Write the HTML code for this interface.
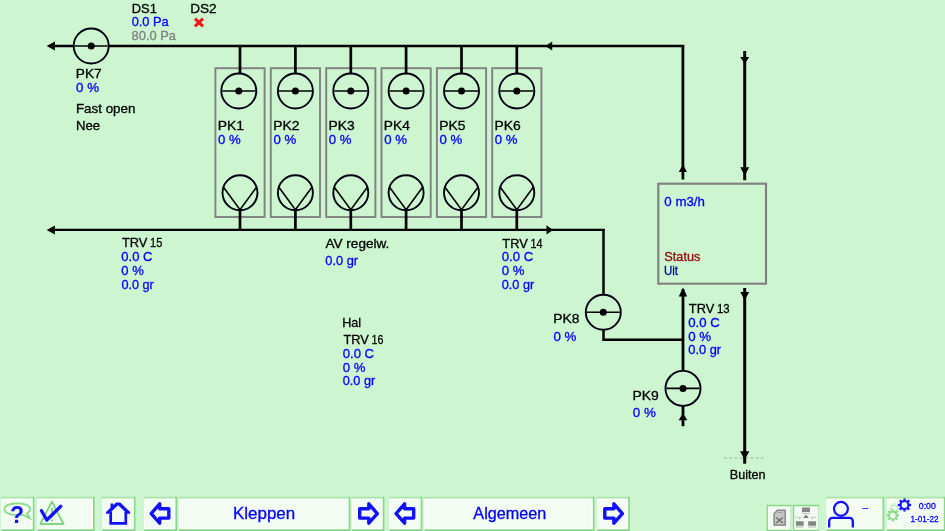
<!DOCTYPE html>
<html><head><meta charset="utf-8"><title>Kleppen</title>
<style>
html,body{margin:0;padding:0;background:#cdf5d0;overflow:hidden}
svg{display:block;will-change:transform}
text{font-family:"Liberation Sans",Arial,sans-serif;font-size:12.6px;stroke-width:.3px}
.k{fill:#000;stroke:#000}
.b{fill:#0000ff;stroke:#0000ff}
.g{fill:#808080;stroke:#808080}
.r{fill:#8e0808;stroke:#8e0808}
.n{fill:#0000a8;stroke:#0000a8}
.ln{stroke:#000;fill:none}
.bx{stroke:#808080;stroke-width:1.9;fill:none}
.btn{fill:#f2fcf2;stroke:#a4e2a4;stroke-width:1.8}
.bt{font-size:16.5px}
.sm{font-size:9.8px}
.xs{font-size:9.5px}
.ic{stroke:#1010ff;fill:none}
</style></head><body>
<svg width="945" height="531" viewBox="0 0 945 531">

<rect class="bx" x="215.4" y="68.2" width="49.2" height="148.8"/>
<rect class="bx" x="270.8" y="68.2" width="49.2" height="148.8"/>
<rect class="bx" x="326.2" y="68.2" width="49.2" height="148.8"/>
<rect class="bx" x="381.5" y="68.2" width="49.2" height="148.8"/>
<rect class="bx" x="436.9" y="68.2" width="49.2" height="148.8"/>
<rect class="bx" x="492.2" y="68.2" width="49.2" height="148.8"/>
<path d="M723.7 458H763.5" stroke="#a0b0a0" stroke-width="1" stroke-dasharray="3.3 2" fill="none"/>
<path class="ln" stroke-width="2.4" d="M50 46H684.2"/>
<path class="ln" stroke-width="2.4" d="M50 229.9H604.7"/>
<path class="ln" stroke-width="2.8" d="M682.9 45V179.5"/>
<path class="ln" stroke-width="3" d="M744.7 51V180.2"/>
<path class="ln" stroke-width="2.8" d="M683 289V426.2"/>
<path class="ln" stroke-width="3" d="M744.7 288V463.7"/>
<path class="ln" stroke-width="2.5" d="M603.5 229V295M603.5 330V339.7H683"/>
<path class="ln" stroke-width="2.7" d="M240 46V74M240 210V230"/>
<path class="ln" stroke-width="2.7" d="M295.4 46V74M295.4 210V230"/>
<path class="ln" stroke-width="2.7" d="M350.8 46V74M350.8 210V230"/>
<path class="ln" stroke-width="2.7" d="M406.1 46V74M406.1 210V230"/>
<path class="ln" stroke-width="2.7" d="M461.5 46V74M461.5 210V230"/>
<path class="ln" stroke-width="2.7" d="M516.8 46V74M516.8 210V230"/>
<path fill="#000" d="M46.7 46l8.2 -4.5v9.0zM545.4 46l6.8 -4.6v9.2zM46.7 229.9l8.2 -4.5v9.0zM553 229.9l-6.5 -4.6v9.2zM682.9 164.6l-4.1 7.4h8.2zM744.7 63.9l-4.5 -6.8h9.0zM744.7 175.6l-4.5 -8.3h9.0zM683 287.4l-4.2 9.2h8.4zM744.7 300.5l-4.4 -8.5h8.8zM683 413.2l-4.4 7h8.8zM744.7 459.8l-4.6 -8.5h9.2z"/>
<circle cx="91.2" cy="46" r="17.5" fill="#cdf5d0" stroke="#000010" stroke-width="1.9"/><path class="ln" stroke-width="1.6" d="M74.7 46H107.7"/><circle cx="91.2" cy="46" r="3.5" fill="#000"/>
<circle cx="238.8" cy="91" r="17.5" fill="#cdf5d0" stroke="#000010" stroke-width="1.9"/><path class="ln" stroke-width="1.6" d="M222.3 91H255.3"/><circle cx="238.8" cy="91" r="3.5" fill="#000"/>
<circle cx="240" cy="192.7" r="17.5" fill="#cdf5d0" stroke="#000010" stroke-width="1.9"/>
<path class="ln" stroke-width="1.6" d="M223.5 187.2L240 209.6L256.5 187.2"/>
<circle cx="295.4" cy="91" r="17.5" fill="#cdf5d0" stroke="#000010" stroke-width="1.9"/><path class="ln" stroke-width="1.6" d="M278.9 91H311.9"/><circle cx="295.4" cy="91" r="3.5" fill="#000"/>
<circle cx="295.4" cy="192.7" r="17.5" fill="#cdf5d0" stroke="#000010" stroke-width="1.9"/>
<path class="ln" stroke-width="1.6" d="M278.9 187.2L295.4 209.6L311.9 187.2"/>
<circle cx="350.8" cy="91" r="17.5" fill="#cdf5d0" stroke="#000010" stroke-width="1.9"/><path class="ln" stroke-width="1.6" d="M334.3 91H367.3"/><circle cx="350.8" cy="91" r="3.5" fill="#000"/>
<circle cx="350.8" cy="192.7" r="17.5" fill="#cdf5d0" stroke="#000010" stroke-width="1.9"/>
<path class="ln" stroke-width="1.6" d="M334.3 187.2L350.8 209.6L367.3 187.2"/>
<circle cx="406.1" cy="91" r="17.5" fill="#cdf5d0" stroke="#000010" stroke-width="1.9"/><path class="ln" stroke-width="1.6" d="M389.6 91H422.6"/><circle cx="406.1" cy="91" r="3.5" fill="#000"/>
<circle cx="406.1" cy="192.7" r="17.5" fill="#cdf5d0" stroke="#000010" stroke-width="1.9"/>
<path class="ln" stroke-width="1.6" d="M389.6 187.2L406.1 209.6L422.6 187.2"/>
<circle cx="461.5" cy="91" r="17.5" fill="#cdf5d0" stroke="#000010" stroke-width="1.9"/><path class="ln" stroke-width="1.6" d="M445.0 91H478.0"/><circle cx="461.5" cy="91" r="3.5" fill="#000"/>
<circle cx="461.5" cy="192.7" r="17.5" fill="#cdf5d0" stroke="#000010" stroke-width="1.9"/>
<path class="ln" stroke-width="1.6" d="M445.0 187.2L461.5 209.6L478.0 187.2"/>
<circle cx="516.8" cy="91" r="17.5" fill="#cdf5d0" stroke="#000010" stroke-width="1.9"/><path class="ln" stroke-width="1.6" d="M500.29999999999995 91H533.3"/><circle cx="516.8" cy="91" r="3.5" fill="#000"/>
<circle cx="516.8" cy="192.7" r="17.5" fill="#cdf5d0" stroke="#000010" stroke-width="1.9"/>
<path class="ln" stroke-width="1.6" d="M500.3 187.2L516.8 209.6L533.3 187.2"/>
<circle cx="603.3" cy="312.3" r="17.5" fill="#cdf5d0" stroke="#000010" stroke-width="1.9"/><path class="ln" stroke-width="1.6" d="M586.8 312.3H619.8"/><circle cx="603.3" cy="312.3" r="3.5" fill="#000"/>
<circle cx="683" cy="388.4" r="17.5" fill="#cdf5d0" stroke="#000010" stroke-width="1.9"/><path class="ln" stroke-width="1.6" d="M666.5 388.4H699.5"/><circle cx="683" cy="388.4" r="3.5" fill="#000"/>
<rect class="bx" x="658.3" y="183.7" width="107.7" height="100" style="stroke-width:2.1"/>
<path d="M195 18.7L203 26.3M203 18.7L195 26.3" stroke="#f01414" stroke-width="3" fill="none"/>
<rect x="1.4" y="496.4" width="33.0" height="35.2" fill="#f3fcf3"/>
<path d="M2.1 531.6V499.1H32.2V528.700H2.1" fill="none" stroke="#fdfffd" stroke-width="1.200"/>
<path d="M1.0 497.4H33.9" fill="none" stroke="#a9e6a9" stroke-width="2"/>
<path d="M33.6 496.7V530.2H1.4" fill="none" stroke="#86d786" stroke-width="1.700"/>
<rect x="37.3" y="496.4" width="57.4" height="35.2" fill="#f3fcf3"/>
<path d="M38.0 531.6V499.1H92.5V528.700H38.0" fill="none" stroke="#fdfffd" stroke-width="1.200"/>
<path d="M36.9 497.4H94.2" fill="none" stroke="#a9e6a9" stroke-width="2"/>
<path d="M93.9 496.7V530.2H37.3" fill="none" stroke="#86d786" stroke-width="1.700"/>
<rect x="102.2" y="496.4" width="33.3" height="35.2" fill="#f3fcf3"/>
<path d="M102.9 531.6V499.1H133.3V528.700H102.9" fill="none" stroke="#fdfffd" stroke-width="1.200"/>
<path d="M101.8 497.4H135.0" fill="none" stroke="#a9e6a9" stroke-width="2"/>
<path d="M134.7 496.7V530.2H102.2" fill="none" stroke="#86d786" stroke-width="1.700"/>
<rect x="144.1" y="496.4" width="33.0" height="35.2" fill="#f3fcf3"/>
<path d="M144.8 531.6V499.1H174.9V528.700H144.8" fill="none" stroke="#fdfffd" stroke-width="1.200"/>
<path d="M143.7 497.4H176.6" fill="none" stroke="#a9e6a9" stroke-width="2"/>
<path d="M176.3 496.7V530.2H144.1" fill="none" stroke="#86d786" stroke-width="1.700"/>
<rect x="179.0" y="496.4" width="171.3" height="35.2" fill="#f3fcf3"/>
<path d="M179.7 531.6V499.1H348.1V528.700H179.7" fill="none" stroke="#fdfffd" stroke-width="1.200"/>
<path d="M178.6 497.4H349.8" fill="none" stroke="#a9e6a9" stroke-width="2"/>
<path d="M349.5 496.7V530.2H179.0" fill="none" stroke="#86d786" stroke-width="1.700"/>
<rect x="351.9" y="496.4" width="32.5" height="35.2" fill="#f3fcf3"/>
<path d="M352.6 531.6V499.1H382.2V528.700H352.6" fill="none" stroke="#fdfffd" stroke-width="1.200"/>
<path d="M351.5 497.4H383.9" fill="none" stroke="#a9e6a9" stroke-width="2"/>
<path d="M383.6 496.7V530.2H351.9" fill="none" stroke="#86d786" stroke-width="1.700"/>
<rect x="389.5" y="496.4" width="32.8" height="35.2" fill="#f3fcf3"/>
<path d="M390.2 531.6V499.1H420.1V528.700H390.2" fill="none" stroke="#fdfffd" stroke-width="1.200"/>
<path d="M389.1 497.4H421.8" fill="none" stroke="#a9e6a9" stroke-width="2"/>
<path d="M421.5 496.7V530.2H389.5" fill="none" stroke="#86d786" stroke-width="1.700"/>
<rect x="424.6" y="496.4" width="169.9" height="35.2" fill="#f3fcf3"/>
<path d="M425.3 531.6V499.1H592.3V528.700H425.3" fill="none" stroke="#fdfffd" stroke-width="1.200"/>
<path d="M424.2 497.4H594.0" fill="none" stroke="#a9e6a9" stroke-width="2"/>
<path d="M593.7 496.7V530.2H424.6" fill="none" stroke="#86d786" stroke-width="1.700"/>
<rect x="597.2" y="496.4" width="32.6" height="35.2" fill="#f3fcf3"/>
<path d="M597.9 531.6V499.1H627.6V528.700H597.9" fill="none" stroke="#fdfffd" stroke-width="1.200"/>
<path d="M596.8 497.4H629.3" fill="none" stroke="#a9e6a9" stroke-width="2"/>
<path d="M629.0 496.7V530.2H597.2" fill="none" stroke="#86d786" stroke-width="1.700"/>
<rect x="766.5" y="504.9" width="25.1" height="26.7" fill="#f3fcf3"/>
<path d="M791.0 505.2V531.6" fill="none" stroke="#b6ecb6" stroke-width="1.200"/>
<path d="M767.2 531.6V505.55H791.6M766.5 530.4H791.6" fill="none" stroke="#84d984" stroke-width="1.400"/>
<rect x="792.8" y="504.9" width="26.4" height="26.7" fill="#f3fcf3"/>
<path d="M818.6 505.2V531.6" fill="none" stroke="#b6ecb6" stroke-width="1.200"/>
<path d="M793.5 531.6V505.55H819.2M792.8 530.4H819.2" fill="none" stroke="#84d984" stroke-width="1.400"/>
<rect x="826.6" y="496.4" width="57.6" height="35.2" fill="#f3fcf3"/>
<path d="M827.3 531.6V499.1H882.0V528.700H827.3" fill="none" stroke="#fdfffd" stroke-width="1.200"/>
<path d="M826.2 497.4H883.7" fill="none" stroke="#a9e6a9" stroke-width="2"/>
<path d="M883.4 496.7V530.2H826.6" fill="none" stroke="#86d786" stroke-width="1.700"/>
<rect x="887.0" y="496.4" width="58.4" height="35.2" fill="#f3fcf3"/>
<path d="M887.7 531.6V499.1H943.2V528.700H887.7" fill="none" stroke="#fdfffd" stroke-width="1.200"/>
<path d="M886.6 497.4H944.9" fill="none" stroke="#a9e6a9" stroke-width="2"/>
<path d="M944.6 496.7V530.2H887.0" fill="none" stroke="#86d786" stroke-width="1.700"/>
<path d="M17.3 503.2c7.3 0 13 2.6 13 6 0 1.6-1.3 3-3.4 4.1l3 5-7.4-3.6c-1.6.3-3.400.5-5.2.5-7.3 0-13-2.600-13-6s5.700-6 13-6z" fill="none" stroke="#8fdc8f" stroke-width="1.9"/>
<text x="17" y="523" text-anchor="middle" style="font-size:23px;font-weight:bold;fill:#1010ff;stroke:none">?</text>
<path d="M51.900 501.500L63.500 524H40.300z" fill="none" stroke="#80d680" stroke-width="1.9" stroke-linejoin="round"/>
<path d="M51.900 508v9.500M51.900 519.500v2" stroke="#80d680" stroke-width="2" fill="none"/>
<path d="M41.500 510.800L46.800 520L60.800 506.300" fill="none" stroke="#1010ff" stroke-width="3.300" stroke-linecap="round" stroke-linejoin="round"/>
<path fill="#1010ff" d="M106.100 513.700V512L116 502.600H120.300L130.100 512V513.700H127.200L118.100 505.300L109 513.700Z"/>
<path class="ic" stroke-width="2.700" d="M110.700 511.500V523.300H125.800V511.500M111.900 509.500V503.400" stroke-linejoin="miter"/>
<path class="ic" stroke-width="3.4" stroke-linejoin="round" d="M151.2 513.550L159.7 503.900V508.700H168.8V518.100H159.7V523.200Z"/>
<path class="ic" stroke-width="3.4" stroke-linejoin="round" d="M377.3 513.550L368.8 503.900V508.700H359.7V518.100H368.8V523.200Z"/>
<path class="ic" stroke-width="3.4" stroke-linejoin="round" d="M396.1 513.550L404.6 503.900V508.700H413.7V518.100H404.6V523.200Z"/>
<path class="ic" stroke-width="3.4" stroke-linejoin="round" d="M622.4 513.550L613.9 503.900V508.700H604.8V518.100H613.9V523.200Z"/>
<path d="M777.400 510.100H785.200V525.200H774.100V513.600Z" fill="#c6c6c6" stroke="#7c7c7c" stroke-width="1.300" stroke-linejoin="round"/>
<path d="M776.200 517.400L782.800 522.900M782.800 517.400L776.200 522.900" stroke="#6a6a6a" stroke-width="1.300" fill="none"/>
<path d="M777.600 512.600H782.600" stroke="#8c8c8c" stroke-width="1" stroke-dasharray="1 .5" fill="none"/>
<path d="M802 507.500h8v4.500h-8zM795.900 521.300h7.700v4.500h-7.700zM808.200 521.300h7.900v4.500h-7.900z" fill="#868686"/>
<path d="M802 513.300h8M795.900 527h7.700M808.200 527h7.900" stroke="#b0b0b0" stroke-width=".9" fill="none"/>
<path d="M806 514.600l2.800 3.300h-5.600z" fill="#787878"/>
<path d="M795 517.200H801.500M810.600 517.200H816.800M799.600 517.200V519.500M812.200 517.200V519.500" stroke="#c2c2c8" stroke-width="1.100" fill="none"/>
<circle class="ic" cx="840.950" cy="508.850" r="6.950" stroke-width="2.200"/>
<path class="ic" stroke-width="2.300" d="M829.200 527.600V521a3.200 3.200 0 0 1 3.200-3.200H849.600a3.200 3.200 0 0 1 3.200 3.200V527.600"/>
<path d="M900.12 507.64L900.12 509.56L898.59 509.56L898.10 510.74L899.18 511.82L897.82 513.18L896.74 512.10L895.56 512.59L895.56 514.12L893.64 514.12L893.64 512.59L892.46 512.10L891.38 513.18L890.02 511.82L891.10 510.74L890.61 509.56L889.08 509.56L889.08 507.64L890.61 507.64L891.10 506.46L890.02 505.38L891.38 504.02L892.46 505.10L893.64 504.61L893.64 503.08L895.56 503.08L895.56 504.61L896.74 505.10L897.82 504.02L899.18 505.38L898.10 506.46L898.59 507.64ZM897.10 508.6a2.5 2.5 0 1 0 -5.0 0a2.5 2.5 0 1 0 5.0 0Z" fill="#c3eec3" fill-rule="evenodd"/>
<path d="M899.01 514.32L899.01 516.48L897.27 516.47L896.72 517.80L897.95 519.02L896.42 520.55L895.20 519.32L893.87 519.87L893.88 521.61L891.72 521.61L891.73 519.87L890.40 519.32L889.18 520.55L887.65 519.02L888.88 517.80L888.33 516.47L886.59 516.48L886.59 514.32L888.33 514.33L888.88 513.00L887.65 511.78L889.18 510.25L890.40 511.48L891.73 510.93L891.72 509.19L893.88 509.19L893.87 510.93L895.20 511.48L896.42 510.25L897.95 511.78L896.72 513.00L897.27 514.33ZM895.70 515.4a2.9 2.9 0 1 0 -5.8 0a2.9 2.9 0 1 0 5.8 0Z" fill="#86d886" fill-rule="evenodd"/>
<path d="M911.10 503.85L911.10 506.15L909.26 506.14L908.68 507.56L909.98 508.85L908.35 510.48L907.06 509.18L905.64 509.76L905.65 511.60L903.35 511.60L903.36 509.76L901.94 509.18L900.65 510.48L899.02 508.85L900.32 507.56L899.74 506.14L897.90 506.15L897.90 503.85L899.74 503.86L900.32 502.44L899.02 501.15L900.65 499.52L901.94 500.82L903.36 500.24L903.35 498.40L905.65 498.40L905.64 500.24L907.06 500.82L908.35 499.52L909.98 501.15L908.68 502.44L909.26 503.86ZM907.40 505a2.9 2.9 0 1 0 -5.8 0a2.9 2.9 0 1 0 5.8 0Z" fill="#1010ff" fill-rule="evenodd"/>
<text class="k" x="131.74" y="12.7" textLength="25.09" lengthAdjust="spacingAndGlyphs">DS1</text>
<text class="b" x="131.70" y="26.3" textLength="37.00" lengthAdjust="spacingAndGlyphs">0.0 Pa</text>
<text class="g" x="131.64" y="39.6" textLength="44.36" lengthAdjust="spacingAndGlyphs">80.0 Pa</text>
<text class="k" x="190.18" y="12.7" textLength="26.50" lengthAdjust="spacingAndGlyphs">DS2</text>
<text class="k" x="75.78" y="77.9" textLength="25.91" lengthAdjust="spacingAndGlyphs">PK7</text>
<text class="b" x="76.08" y="91.9" textLength="23.00" lengthAdjust="spacingAndGlyphs">0 %</text>
<text class="k" x="75.90" y="112.6" textLength="59.57" lengthAdjust="spacingAndGlyphs">Fast open</text>
<text class="k" x="75.92" y="130.1" textLength="24.17" lengthAdjust="spacingAndGlyphs">Nee</text>
<text class="k" y="247.2"><tspan x="121.91" textLength="25.44" lengthAdjust="spacingAndGlyphs">TRV</tspan> <tspan x="150.06" textLength="12.20" lengthAdjust="spacingAndGlyphs">15</tspan></text>
<text class="b" x="121.39" y="261.0" textLength="31.10" lengthAdjust="spacingAndGlyphs">0.0 C</text>
<text class="b" x="121.39" y="275.0" textLength="22.47" lengthAdjust="spacingAndGlyphs">0 %</text>
<text class="b" x="121.41" y="288.8" textLength="32.30" lengthAdjust="spacingAndGlyphs">0.0 gr</text>
<text class="k" x="325.47" y="247.6" textLength="63.83" lengthAdjust="spacingAndGlyphs">AV regelw.</text>
<text class="b" x="325.30" y="265.0" textLength="32.81" lengthAdjust="spacingAndGlyphs">0.0 gr</text>
<text class="k" y="247.5"><tspan x="502.31" textLength="25.44" lengthAdjust="spacingAndGlyphs">TRV</tspan> <tspan x="530.48" textLength="11.93" lengthAdjust="spacingAndGlyphs">14</tspan></text>
<text class="b" x="501.79" y="261.0" textLength="31.41" lengthAdjust="spacingAndGlyphs">0.0 C</text>
<text class="b" x="501.79" y="275.0" textLength="22.68" lengthAdjust="spacingAndGlyphs">0 %</text>
<text class="b" x="501.80" y="288.7" textLength="32.41" lengthAdjust="spacingAndGlyphs">0.0 gr</text>
<text class="k" x="342.16" y="327.3" textLength="18.98" lengthAdjust="spacingAndGlyphs">Hal</text>
<text class="k" y="344.3"><tspan x="343.41" textLength="25.44" lengthAdjust="spacingAndGlyphs">TRV</tspan> <tspan x="371.59" textLength="11.88" lengthAdjust="spacingAndGlyphs">16</tspan></text>
<text class="b" x="342.69" y="357.9" textLength="31.41" lengthAdjust="spacingAndGlyphs">0.0 C</text>
<text class="b" x="342.69" y="371.7" textLength="22.68" lengthAdjust="spacingAndGlyphs">0 %</text>
<text class="b" x="342.70" y="385.2" textLength="32.61" lengthAdjust="spacingAndGlyphs">0.0 gr</text>
<text class="k" y="312.9"><tspan x="688.81" textLength="25.44" lengthAdjust="spacingAndGlyphs">TRV</tspan> <tspan x="716.93" textLength="12.67" lengthAdjust="spacingAndGlyphs">13</tspan></text>
<text class="b" x="688.28" y="326.8" textLength="31.52" lengthAdjust="spacingAndGlyphs">0.0 C</text>
<text class="b" x="688.28" y="340.6" textLength="22.89" lengthAdjust="spacingAndGlyphs">0 %</text>
<text class="b" x="688.30" y="354.4" textLength="32.81" lengthAdjust="spacingAndGlyphs">0.0 gr</text>
<text class="b" x="664.38" y="206.2" textLength="40.58" lengthAdjust="spacingAndGlyphs">0 m3/h</text>
<text class="r" x="664.32" y="261.1" textLength="36.14" lengthAdjust="spacingAndGlyphs">Status</text>
<text class="n" x="664.01" y="275.0" textLength="14.07" lengthAdjust="spacingAndGlyphs">Uit</text>
<text class="k" x="729.87" y="478.8" textLength="35.75" lengthAdjust="spacingAndGlyphs">Buiten</text>
<text class="b bt" x="233.01" y="519.2" textLength="62.19" lengthAdjust="spacingAndGlyphs">Kleppen</text>
<text class="b bt" x="473.37" y="519.0" textLength="72.88" lengthAdjust="spacingAndGlyphs">Algemeen</text>
<text class="b xs" y="510.9"><tspan x="862.2">-</tspan><tspan x="865.3">-</tspan></text>
<text class="b sm" x="918.76" y="509.1" textLength="17.09" lengthAdjust="spacingAndGlyphs">0:00</text>
<text class="b sm" x="910.48" y="522.0" textLength="28.03" lengthAdjust="spacingAndGlyphs">1-01-22</text>
<text class="k" x="217.76" y="129.6" textLength="26.32" lengthAdjust="spacingAndGlyphs">PK1</text>
<text class="b" x="218.09" y="143.7" textLength="22.68" lengthAdjust="spacingAndGlyphs">0 %</text>
<text class="k" x="273.16" y="129.6" textLength="26.34" lengthAdjust="spacingAndGlyphs">PK2</text>
<text class="b" x="273.49" y="143.7" textLength="22.68" lengthAdjust="spacingAndGlyphs">0 %</text>
<text class="k" x="328.56" y="129.6" textLength="26.25" lengthAdjust="spacingAndGlyphs">PK3</text>
<text class="b" x="328.89" y="143.7" textLength="22.68" lengthAdjust="spacingAndGlyphs">0 %</text>
<text class="k" x="383.87" y="129.6" textLength="26.03" lengthAdjust="spacingAndGlyphs">PK4</text>
<text class="b" x="384.19" y="143.7" textLength="22.68" lengthAdjust="spacingAndGlyphs">0 %</text>
<text class="k" x="439.26" y="129.6" textLength="26.22" lengthAdjust="spacingAndGlyphs">PK5</text>
<text class="b" x="439.59" y="143.7" textLength="22.68" lengthAdjust="spacingAndGlyphs">0 %</text>
<text class="k" x="494.56" y="129.6" textLength="26.25" lengthAdjust="spacingAndGlyphs">PK6</text>
<text class="b" x="494.89" y="143.7" textLength="22.68" lengthAdjust="spacingAndGlyphs">0 %</text>
<text class="k" x="553.16" y="323.2" textLength="26.24" lengthAdjust="spacingAndGlyphs">PK8</text>
<text class="b" x="553.48" y="340.6" textLength="23.00" lengthAdjust="spacingAndGlyphs">0 %</text>
<text class="k" x="632.56" y="399.6" textLength="26.30" lengthAdjust="spacingAndGlyphs">PK9</text>
<text class="b" x="632.88" y="416.8" textLength="23.00" lengthAdjust="spacingAndGlyphs">0 %</text>
</svg></body></html>
